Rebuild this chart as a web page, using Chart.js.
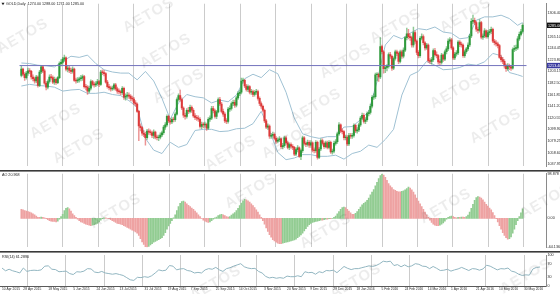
<!DOCTYPE html>
<html><head><meta charset="utf-8">
<script src="https://cdn.jsdelivr.net/npm/chart.js@4.4.1/dist/chart.umd.min.js"></script>
<style>
html,body{margin:0;padding:0;background:#fff;}
#wrap{position:relative;width:560px;height:294px;overflow:hidden;background:#fff;}
canvas{position:absolute;left:0;}
.wm{position:absolute;font:bold 15px "Liberation Sans",Arial,sans-serif;color:rgba(0,0,0,0.075);transform:translate(-50%,-50%) rotate(-30deg);letter-spacing:1px;pointer-events:none;white-space:nowrap;z-index:5;}
</style></head><body>
<div id="wrap">
<canvas id="cMain" width="560" height="170" style="top:0"></canvas>
<canvas id="cAO" width="560" height="81" style="top:170px"></canvas>
<canvas id="cRSI" width="560" height="43" style="top:251px"></canvas>
</div>
<script>
// ---------------- DATA ----------------
const dateLabels = ['10 Apr 2015','28 Apr 2015','18 May 2015','5 Jun 2015','24 Jun 2015','13 Jul 2015','31 Jul 2015','19 Aug 2015','7 Sep 2015','25 Sep 2015','14 Oct 2015','3 Nov 2015','20 Nov 2015','9 Dec 2015','29 Dec 2015','18 Jan 2016','5 Feb 2016','24 Feb 2016','14 Mar 2016','1 Apr 2016','21 Apr 2016','10 May 2016','30 May 2016'];
const dateLabelBars = [0,12,26,40,53,66,80,93,106,120,133,147,160,173,186,199,213,226,239,252,266,279,293];

const opens = [1196,
1207,1198,1192,1200,1204, 1203,1193,1190,1186,1193, 1178,1202,1211,1204,1182, 1175,1185,1193,1192,1184,
1189,1183,1192,1217,1219, 1225,1227,1207,1209,1205, 1203,1207,1187,1186,1188, 1190,1191,1194,1176,1175,
1168,1173,1185,1180,1179, 1181,1185,1180,1202,1201, 1199,1184,1176,1174,1172, 1173,1179,1172,1168,1167,
1165,1173,1157,1159,1161, 1159,1155,1154,1147,1145, 1132,1106,1103,1093,1091, 1085,1097,1095,1094,1089,
1095,1086,1085,1086,1090, 1094,1104,1108,1123,1115, 1113,1118,1117,1127,1153, 1160,1153,1138,1125,1123,
1134,1132,1139,1134,1124, 1121,1120,1118,1105,1109, 1108,1109,1102,1118,1120, 1137,1133,1123,1131,1153,
1145,1132,1127,1115,1114, 1136,1137,1146,1148,1143, 1156,1164,1166,1186,1187, 1177,1171,1176,1166,1167,
1162,1166,1167,1155,1146, 1141,1134,1115,1104,1106, 1088,1089,1091,1084,1079, 1081,1083,1069,1071,1085,
1076,1068,1073,1070,1068, 1056,1064,1067,1052,1062, 1085,1075,1073,1077,1072, 1076,1063,1062,1077,1050,
1065,1080,1075,1069,1076, 1068,1077,1060,1061,1075, 1078,1092,1108,1097,1096, 1085,1086,1074,1089,1088,
1089,1107,1097,1099,1108, 1120,1125,1114,1117,1128, 1130,1141,1157,1158,1197, 1198,1193,1247,1238,1208,
1210,1212,1233,1230,1209, 1226,1238,1235,1221,1238, 1230,1241,1263,1270,1265, 1263,1250,1272,1257,1237,
1231,1262,1265,1254,1245, 1250,1222,1221,1224,1240, 1233,1231,1220,1219,1232, 1225,1238,1243,1257,1259,
1245,1227,1234,1236,1255, 1251,1250,1231,1238,1243, 1250,1266,1292,1294,1290, 1278,1276,1290,1264,1266,
1275,1265,1272,1274,1278, 1257,1254,1252,1249,1228, 1224,1221,1213,1208,1213, 1211,1209,1242,1244,1245,
1261,1269,1274];

const highs = [1212,
1209,1201,1203,1209,1208, 1205,1197,1193,1196,1195, 1205,1214,1213,1207,1185, 1188,1197,1198,1195,1193,
1191,1194,1220,1224,1228, 1232,1229,1213,1212,1209, 1211,1209,1191,1192,1193, 1196,1197,1196,1180,1178,
1177,1188,1187,1184,1185, 1189,1187,1205,1206,1205, 1201,1187,1180,1177,1177, 1182,1182,1175,1172,1170,
1176,1175,1163,1166,1165, 1162,1159,1157,1151,1147, 1134,1110,1105,1098,1095, 1100,1101,1099,1097,1099,
1097,1090,1090,1094,1097, 1107,1112,1126,1125,1119, 1121,1122,1130,1156,1163, 1170,1156,1140,1129,1137,
1139,1143,1142,1137,1128, 1125,1124,1121,1113,1112, 1113,1111,1121,1124,1141, 1141,1136,1134,1156,1157,
1148,1136,1130,1119,1139, 1142,1149,1152,1152,1159, 1167,1170,1191,1191,1189, 1180,1179,1178,1171,1170,
1169,1171,1170,1158,1149, 1143,1136,1118,1110,1108, 1093,1095,1094,1087,1085, 1087,1085,1075,1088,1088,
1079,1076,1076,1073,1070, 1067,1071,1069,1065,1088, 1087,1078,1081,1080,1080, 1078,1067,1080,1079,1068,
1083,1083,1078,1079,1079, 1080,1079,1065,1079,1082, 1095,1112,1110,1101,1098, 1090,1089,1093,1093,1093,
1110,1109,1103,1111,1123, 1129,1128,1121,1131,1134, 1145,1160,1163,1200,1201, 1200,1263,1250,1240,1213,
1215,1236,1237,1232,1229, 1241,1241,1238,1241,1241, 1245,1265,1280,1278,1270, 1266,1282,1275,1259,1240,
1265,1270,1268,1256,1253, 1252,1226,1228,1243,1244, 1238,1233,1224,1235,1234, 1241,1247,1261,1263,1262,
1247,1237,1240,1258,1258, 1255,1252,1241,1246,1254, 1269,1297,1303,1298,1292, 1282,1295,1292,1270,1279,
1277,1276,1278,1282,1280, 1260,1258,1255,1251,1232, 1228,1224,1216,1217,1216, 1214,1245,1249,1250,1265,
1273,1278,1288];

const lows = [1193,
1195,1187,1189,1196,1199, 1189,1186,1182,1183,1175, 1176,1199,1201,1180,1170, 1172,1182,1189,1181,1180,
1180,1181,1190,1213,1216, 1221,1204,1202,1201,1199, 1200,1185,1182,1183,1184, 1186,1187,1173,1170,1162,
1165,1170,1177,1175,1176, 1178,1176,1178,1197,1195, 1182,1173,1170,1168,1169, 1170,1169,1164,1163,1161,
1162,1153,1152,1155,1155, 1151,1150,1144,1141,1130, 1080,1097,1089,1087,1072, 1082,1091,1090,1085,1084,
1083,1081,1080,1083,1087, 1091,1100,1105,1112,1109, 1110,1113,1114,1125,1150, 1150,1135,1121,1118,1120,
1128,1129,1130,1121,1117, 1116,1114,1102,1101,1103, 1104,1098,1100,1114,1117, 1129,1120,1119,1129,1142,
1129,1123,1112,1110,1111, 1132,1134,1142,1139,1140, 1153,1160,1163,1182,1174, 1168,1167,1163,1162,1158,
1159,1162,1152,1142,1137, 1131,1112,1101,1100,1084, 1084,1086,1081,1075,1076, 1078,1066,1065,1068,1073,
1065,1064,1066,1064,1053, 1053,1060,1050,1046,1059, 1072,1069,1070,1068,1068, 1060,1058,1059,1047,1048,
1062,1072,1066,1067,1065, 1065,1057,1056,1058,1072, 1075,1089,1094,1092,1081, 1081,1071,1071,1084,1084,
1086,1094,1093,1096,1105, 1117,1111,1110,1114,1124, 1127,1138,1153,1155,1186, 1185,1190,1234,1200,1201,
1204,1209,1226,1205,1206, 1223,1231,1217,1218,1226, 1227,1238,1259,1261,1258, 1246,1246,1253,1233,1227,
1228,1259,1250,1241,1242, 1219,1217,1216,1221,1230, 1227,1216,1214,1216,1221, 1222,1234,1240,1253,1242,
1224,1224,1230,1233,1247, 1246,1228,1228,1235,1240, 1247,1263,1288,1286,1274, 1271,1273,1261,1260,1263,
1262,1262,1268,1270,1254, 1250,1248,1245,1226,1220, 1217,1209,1203,1205,1206, 1205,1207,1238,1240,1242,
1258,1266,1271];

const closes = [1207,
1198,1192,1200,1204,1203, 1193,1190,1186,1193,1178, 1202,1211,1204,1182,1175, 1185,1193,1192,1184,1189,
1183,1192,1217,1219,1225, 1227,1207,1209,1205,1203, 1207,1187,1186,1188,1190, 1191,1194,1176,1175,1168,
1173,1185,1180,1179,1181, 1185,1180,1202,1201,1199, 1184,1176,1174,1172,1173, 1179,1172,1168,1167,1165,
1173,1157,1159,1161,1159, 1155,1154,1147,1145,1132, 1106,1103,1093,1091,1085, 1097,1095,1094,1089,1095,
1086,1085,1086,1090,1094, 1104,1108,1123,1115,1113, 1118,1117,1127,1153,1160, 1153,1138,1125,1123,1134,
1132,1139,1134,1124,1121, 1120,1118,1105,1109,1108, 1109,1102,1118,1120,1137, 1133,1123,1131,1153,1145,
1132,1127,1115,1114,1136, 1137,1146,1148,1143,1156, 1164,1166,1186,1187,1177, 1171,1176,1166,1167,1162,
1166,1167,1155,1146,1141, 1134,1115,1104,1106,1088, 1089,1091,1084,1079,1081, 1083,1069,1071,1085,1076,
1068,1073,1070,1068,1056, 1064,1067,1052,1062,1085, 1075,1073,1077,1072,1076, 1063,1062,1077,1050,1065,
1080,1075,1069,1076,1068, 1077,1060,1061,1075,1078, 1092,1108,1097,1096,1085, 1086,1074,1089,1088,1089,
1107,1097,1099,1108,1120, 1125,1114,1117,1128,1130, 1141,1157,1158,1197,1198, 1193,1247,1238,1208,1210,
1212,1233,1230,1209,1226, 1238,1235,1221,1238,1230, 1241,1263,1270,1265,1263, 1250,1272,1257,1237,1231,
1262,1265,1254,1245,1250, 1222,1221,1224,1240,1233, 1231,1220,1219,1232,1225, 1238,1243,1257,1259,1245,
1227,1234,1236,1255,1251, 1250,1231,1238,1243,1250, 1266,1292,1294,1290,1278, 1276,1290,1264,1266,1275,
1265,1272,1274,1278,1257, 1254,1252,1249,1228,1224, 1221,1213,1208,1213,1211, 1209,1242,1244,1245,1261,
1269,1274,1285];

// Bollinger Bands read at every 5th bar
const bbBars  = [0,5,10,15,20,25,30,35,40,45,50,55,60,65,70,75,80,85,90,95,100,105,110,115,120,125,130,135,140,145,150,155,160,165,170,175,180,185,190,195,200,205,210,215,220,225,230,235,240,245,250,255,260,265,270,275,280,285,290,295,300,303];
const bbUpper = [1218,1217,1214,1213,1211,1221,1230,1228,1232,1217,1206,1202,1200,1200,1188,1203,1186,1155,1118,1147,1162,1158,1156,1147,1152,1149,1161,1190,1198,1192,1206,1199,1166,1120,1092,1087,1084,1087,1087,1104,1105,1117,1132,1185,1250,1267,1261,1271,1279,1277,1282,1273,1271,1261,1263,1294,1300,1300,1303,1297,1285,1290];
const bbLower = [1177,1180,1178,1177,1175,1168,1170,1171,1164,1164,1166,1162,1160,1151,1139,1084,1063,1057,1077,1068,1073,1098,1100,1100,1096,1097,1101,1102,1110,1132,1098,1059,1046,1049,1055,1055,1052,1052,1054,1047,1057,1061,1072,1068,1082,1100,1161,1196,1203,1221,1214,1206,1207,1210,1216,1214,1220,1235,1231,1201,1197,1194];

const levelPrice = 1213.40;
const priceTicks = [1306.40,1285.75,1265.10,1244.45,1223.80,1203.15,1182.50,1161.85,1141.20,1120.55,1099.90,1079.25,1058.60,1037.95];

const aoValues = [20,19,17,16,15,14,
12,10,8,5,2, 2,3,2,1,-1, -3,-5,-6,-7,-7, -8,-6,-2,4,9, 17,22,24,21,16, 10,6,2,-2,-5, -8,-9,-11,-13,-14,
-15,-16,-15,-14,-13, -11,-8,-4,-1,1, 1,0,-1,-3,-5, -7,-9,-11,-12,-13, -14,-16,-18,-20,-22, -24,-26,-28,-30,-33,
-38,-45,-52,-58,-63, -64,-62,-59,-56,-53, -51,-49,-47,-45,-43, -38,-32,-24,-17,-11, -5,1,8,17,26, 33,37,38,36,32,
29,26,23,20,16, 12,8,4,0,-4, -6,-8,-9,-8,-5, -2,1,3,6,8, 9,8,6,4,3, 4,7,10,13,17, 22,28,34,39,42, 41,39,36,32,28,
24,19,14,8,2, -5,-13,-21,-29,-36, -42,-47,-50,-53,-55, -56,-56,-55,-54,-53, -52,-51,-50,-49,-48, -46,-43,-40,-37,-33,
-28,-23,-18,-14,-11, -9,-8,-7,-6,-5, -4,-4,-3,-2,-2, -1,-1,0,2,5, 10,15,20,24,25, 24,20,16,12,9, 9,11,15,20,25,
30,33,36,40,45, 52,58,64,72,80, 88,95,98.878,96,91, 84,77,72,68,64, 62,60,59,59,60, 61,63,66,69,67, 63,58,52,45,38,
32,26,20,14,8, 2,-4,-9,-13,-15, -16,-16,-15,-13,-10, -6,-2,2,4,5, 4,2,1,2,2, 3,3,2,4,7, 14,22,31,40,46, 48,47,45,41,36,
31,27,23,19,13, 6,-1,-8,-16,-24, -32,-38,-43,-46,-45, -41,-33,-24,-14,-5, 4,12,20.968];
const aoTicks = [98.878, 0, -64.136];

// RSI(14) read at every 2nd bar
const RSI_STEP = 2;
const rsiValues = [58,49,54,49,46,42,58,47,50,51,50,52,64,65,54,53,46,47,48,40,37,46,45,48,56,55,45,43,47,42,40,38,40,37,34,27,20,18,28,27,30,28,33,42,52,49,51,66,64,52,55,56,50,48,42,44,42,52,56,54,60,52,47,56,59,64,68,72,62,58,56,57,47,42,31,26,28,25,27,25,32,30,30,33,30,46,43,44,38,46,43,50,49,51,43,53,63,57,53,56,56,59,62,65,63,66,72,80,78,80,66,69,62,68,62,65,72,70,64,63,56,63,57,50,51,54,48,52,55,60,55,50,56,55,51,55,67,64,58,52,56,55,58,48,45,38,34,36,35,55,60,61.289];
const rsiTicks = [100, 70, 30, 0];

// ---------------- LAYOUT / STYLE ----------------
const X_MIN = -1.12, X_MAX = 305.35;
const GRID_START = 14.43, GRID_STEP = 21.43;
const AXIS_W = 14;
const TXT = {family: '"Liberation Sans", Arial, sans-serif', size: 3.7};
const XT = {family: '"Liberation Sans", Arial, sans-serif', size: 3.3};
const UP = '#2f9a3c', DOWN = '#dc3a3a';
const UP_W = 'rgba(47,154,60,0.55)', DOWN_W = 'rgba(220,58,58,0.55)';
const BB_COLOR = '#9fc1d3';
const N = closes.length;
const last = N - 1;

function gridTicks(axis){ const t=[]; for(let v=GRID_START; v<=X_MAX; v+=GRID_STEP) t.push({value:v}); axis.ticks=t; }
function gridX(){
  return { type:'linear', min:X_MIN, max:X_MAX, afterBuildTicks:gridTicks,
    ticks:{display:false}, grid:{color:'#cbcbcb', lineWidth:1, drawTicks:false},
    border:{display:false}, afterFit:s=>{s.height=0;} };
}
function rightY(min,max,ticks,fmt){
  return { type:'linear', position:'right', min, max,
    afterBuildTicks:a=>{a.ticks=ticks.map(v=>({value:v}));},
    ticks:{font:TXT, color:'#2a2a2a', padding:1.5, autoSkip:false, callback:fmt},
    grid:{display:false, drawTicks:false},
    border:{display:true, color:'#8a8a8a', width:1},
    afterFit:s=>{s.width=AXIS_W;} };
}
const decor = {
  id:'decor',
  afterDraw(chart, args, opts){
    const {ctx} = chart;
    ctx.save();
    ctx.font = `${TXT.size}px ${TXT.family}`;
    ctx.textBaseline = 'middle';
    (opts.boxes||[]).forEach(b=>{
      const y = chart.scales.y.getPixelForValue(b.value);
      const x = chart.chartArea.right + 1;
      ctx.fillStyle = b.bg; ctx.fillRect(x, y-2.7, chart.width-x, 5.4);
      ctx.fillStyle = '#fff'; ctx.fillText(b.value.toFixed(2), x+1, y+0.2);
    });
    ctx.fillStyle = '#1e1e1e';
    (opts.texts||[]).forEach(t=>ctx.fillText(t.text, t.x, t.y));
    if (opts.icon){ ctx.beginPath(); ctx.moveTo(1.5,2.8); ctx.lineTo(4.5,2.8); ctx.lineTo(3,5.2); ctx.closePath(); ctx.fill(); }
    if (opts.topRule){ ctx.fillStyle='#3a3a3a'; ctx.fillRect(0,0,chart.width,1.6); }
    ctx.restore();
  }
};
const baseOpts = { responsive:false, animation:false, events:[],
  layout:{padding:0}, plugins:{legend:{display:false}, tooltip:{enabled:false}} };

// ---------------- MAIN PANE ----------------
const bodies = closes.map((c,i)=>({x:i, y:[opens[i], c]}));
const wicks = closes.map((c,i)=>({x:i, y:[lows[i], highs[i]]}));
const bodyColors = closes.map((c,i)=> c>=opens[i] ? UP : DOWN);
const wickColors = closes.map((c,i)=> c>=opens[i] ? UP_W : DOWN_W);
const titleText = `GOLD,Daily  ${opens[last].toFixed(2)} ${highs[last].toFixed(2)} ${lows[last].toFixed(2)} ${closes[last].toFixed(2)}`;

new Chart(document.getElementById('cMain'), {
  type:'bar',
  data:{ datasets:[
    {type:'line', data:bbBars.map((b,k)=>({x:b, y:bbUpper[k]})), borderColor:BB_COLOR, borderWidth:1, pointRadius:0, order:3},
    {type:'line', data:bbBars.map((b,k)=>({x:b, y:bbLower[k]})), borderColor:BB_COLOR, borderWidth:1, pointRadius:0, order:3},
    {data:wicks, backgroundColor:wickColors, barThickness:0.8, grouped:false, order:2},
    {data:bodies, backgroundColor:bodyColors, barThickness:1.4, grouped:false, minBarLength:0.8, order:1},
    {type:'line', data:[{x:X_MIN, y:levelPrice},{x:X_MAX, y:levelPrice}], borderColor:'#7474bd', borderWidth:1, pointRadius:0, order:0}
  ]},
  options:{ ...baseOpts,
    scales:{ x:gridX(), y:rightY(1034.3, 1323.4, priceTicks, v=>v.toFixed(2)) },
    plugins:{ ...baseOpts.plugins,
      decor:{ icon:true, texts:[{text:titleText, x:6, y:4.2}],
        boxes:[{value:levelPrice, bg:'#3a3aa0'},{value:closes[last], bg:'#111'}] } } },
  plugins:[decor]
});

// ---------------- AO PANE ----------------
const aoColors = aoValues.map((v,i)=> (i>0 && v>aoValues[i-1]) ? '#92cc92' : '#eea2a2');
new Chart(document.getElementById('cAO'), {
  type:'bar',
  data:{ datasets:[{ data:aoValues.map((v,i)=>({x:i, y:v})), backgroundColor:aoColors, barThickness:1.1 }]},
  options:{ ...baseOpts, layout:{padding:{top:3, bottom:1}},
    scales:{ x:gridX(), y:rightY(aoTicks[2], aoTicks[0], aoTicks, v=> v===0 ? '0.00' : String(v)) },
    plugins:{ ...baseOpts.plugins,
      decor:{ topRule:true, texts:[{text:`AO ${aoValues[last].toFixed(3)}`, x:2, y:4.6}] } } },
  plugins:[decor]
});

// ---------------- RSI PANE ----------------
new Chart(document.getElementById('cRSI'), {
  type:'line',
  data:{ datasets:[{ data:rsiValues.map((v,k)=>({x:k*RSI_STEP, y:v})), borderColor:'#92b6c1', borderWidth:1, pointRadius:0 }]},
  options:{ ...baseOpts, layout:{padding:{top:4}},
    scales:{
      x:gridX(),
      xl:{ type:'linear', position:'bottom', min:X_MIN, max:X_MAX,
        afterBuildTicks:a=>{a.ticks=dateLabelBars.map(v=>({value:v}));},
        ticks:{font:XT, color:'#2a2a2a', autoSkip:false, maxRotation:0, minRotation:0, align:'start', padding:1.5,
          callback:(v,i)=>dateLabels[i]},
        grid:{display:false, drawTicks:false}, border:{display:true, color:'#5a5a5a'},
        afterFit:s=>{s.height=8;} },
      y:rightY(0, 100, rsiTicks, v=>String(v))
    },
    plugins:{ ...baseOpts.plugins,
      decor:{ topRule:true, texts:[{text:`RSI(14) ${rsiValues[rsiValues.length-1].toFixed(4)}`, x:2, y:5.6}] } } },
  plugins:[decor]
});

// ---------------- WATERMARKS ----------------
const watermarkSpots = [[22,35],[148,14],[165,50],[55,120],[78,145],[178,85],[230,152],[287,140],[315,105],[345,60],[395,25],[465,14],[455,90],[495,125],[115,210],[250,190],[325,230],[445,205],[545,200],[525,275],[215,282],[355,280]];
const wrap = document.getElementById('wrap');
watermarkSpots.forEach(([x,y])=>{ const d=document.createElement('div'); d.className='wm'; d.textContent='AETOS'; d.style.left=x+'px'; d.style.top=y+'px'; wrap.appendChild(d); });
</script>
</body></html>
